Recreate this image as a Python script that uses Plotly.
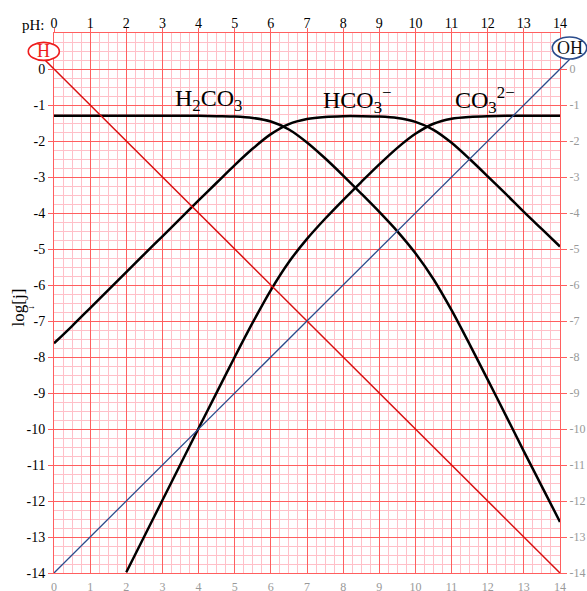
import plotly.graph_objects as go

# pH sampling for the carbonate species curves
ph = [0, 0.5, 1, 1.5, 2, 2.5, 3, 3.5, 4, 4.5, 5, 5.5, 6, 6.5, 7, 7.5,
      8, 8.5, 9, 9.5, 10, 10.5, 11, 11.5, 12, 12.5, 13, 13.5, 14]

log_h2co3 = [-1.30, -1.30, -1.30, -1.30, -1.30, -1.30, -1.30, -1.30, -1.30,
             -1.31, -1.32, -1.36, -1.46, -1.68, -2.04, -2.48, -2.96, -3.46,
             -3.97, -4.51, -5.12, -5.84, -6.70, -7.65, -8.63, -9.62, -10.62,
             -11.60, -12.58]

log_hco3 = [-7.62, -7.14, -6.64, -6.14, -5.64, -5.14, -4.65, -4.15, -3.65,
            -3.16, -2.67, -2.21, -1.81, -1.53, -1.39, -1.33, -1.31, -1.31,
            -1.32, -1.36, -1.47, -1.69, -2.05, -2.50, -2.98, -3.47, -3.97,
            -4.45, -4.93]

ph_co3 = [2, 2.5, 3, 3.5, 4, 4.5, 5, 5.5, 6, 6.5, 7, 7.5, 8, 8.5, 9, 9.5,
          10, 10.5, 11, 11.5, 12, 12.5, 13, 13.5, 14]
log_co3 = [-13.98, -12.98, -11.98, -10.98, -9.98, -8.99, -8.00, -7.04, -6.14,
           -5.36, -4.72, -4.16, -3.64, -3.14, -2.65, -2.19, -1.80, -1.52,
           -1.38, -1.33, -1.31, -1.30, -1.30, -1.30, -1.30]

# water lines: log[H+] and log[OH-]
ph_ends = [0, 14]
log_h = [0, -14]
log_oh = [-14, 0]

# tick labels
ph_ticks = list(range(0, 15))
ph_labels = [str(v) for v in ph_ticks]
log_ticks = list(range(0, -15, -1))
log_labels = [str(v) for v in log_ticks]

X_RANGE = [0, 14]
Y_RANGE = [-14, 1]

SERIF = "Liberation Serif, Times New Roman, serif"
MAJOR = "rgb(255,95,95)"
MINOR = "rgb(255,192,200)"
H_RED = "#d81010"
OH_BLUE = "#2b4c8c"


def to_domain(xv, yv):
    """Map a data point onto the (unclipped) axis-domain frame."""
    fx = (xv - X_RANGE[0]) / (X_RANGE[1] - X_RANGE[0])
    fy = (yv - Y_RANGE[0]) / (Y_RANGE[1] - Y_RANGE[0])
    return fx, fy


fig = go.Figure()

curve = dict(color="black", width=2.5, shape="spline", smoothing=0.8)
fig.add_trace(go.Scatter(x=ph, y=log_h2co3, mode="lines", line=curve,
                         name="H2CO3", hoverinfo="skip"))
fig.add_trace(go.Scatter(x=ph, y=log_hco3, mode="lines", line=curve,
                         name="HCO3-", hoverinfo="skip"))
fig.add_trace(go.Scatter(x=ph_co3, y=log_co3, mode="lines", line=curve,
                         name="CO3 2-", hoverinfo="skip"))
fig.add_trace(go.Scatter(x=ph_ends, y=log_h, mode="lines",
                         line=dict(color=H_RED, width=1.5), name="H",
                         hoverinfo="skip"))
fig.add_trace(go.Scatter(x=ph_ends, y=log_oh, mode="lines",
                         line=dict(color=OH_BLUE, width=1.3), name="OH",
                         hoverinfo="skip", xaxis="x2", yaxis="y2"))

fig.update_layout(
    width=587, height=591,
    margin=dict(l=54, r=27, t=33, b=18, autoexpand=False),
    paper_bgcolor="white", plot_bgcolor="white",
    showlegend=False,
    xaxis=dict(
        side="top", range=X_RANGE, anchor="y", automargin=False,
        tickmode="array", tickvals=ph_ticks, ticktext=ph_labels,
        tickfont=dict(family=SERIF, size=14, color="black"),
        ticks="outside", ticklen=4, tickcolor=MAJOR, ticklabelstandoff=-6,
        showgrid=True, gridcolor=MAJOR, gridwidth=1,
        minor=dict(tickmode="linear", tick0=0, dtick=0.25, showgrid=True,
                   gridcolor=MINOR, gridwidth=1),
        showline=True, linecolor=MAJOR, linewidth=1, mirror=True,
        zeroline=False,
    ),
    yaxis=dict(
        range=Y_RANGE, anchor="x", automargin=False,
        tickmode="array", tickvals=log_ticks, ticktext=log_labels,
        tickfont=dict(family=SERIF, size=14, color="black"),
        ticks="outside", ticklen=5, tickcolor=MAJOR,
        showgrid=True, gridcolor=MAJOR, gridwidth=1,
        minor=dict(tickmode="linear", tick0=0, dtick=0.25, showgrid=True,
                   gridcolor=MINOR, gridwidth=1),
        showline=True, linecolor=MAJOR, linewidth=1, mirror=True,
        zeroline=False,
    ),
    xaxis2=dict(
        overlaying="x", side="bottom", range=X_RANGE, anchor="y2",
        automargin=False,
        tickmode="array", tickvals=ph_ticks, ticktext=ph_labels,
        tickfont=dict(family=SERIF, size=12, color="#999999"),
        ticks="outside", ticklen=3, tickcolor="rgba(0,0,0,0)",
        showgrid=False, showline=False, zeroline=False,
    ),
    yaxis2=dict(
        overlaying="y", side="right", range=Y_RANGE, anchor="x2",
        automargin=False,
        tickmode="array", tickvals=log_ticks, ticktext=log_labels,
        tickfont=dict(family=SERIF, size=12, color="#999999"),
        ticks="outside", ticklen=6, tickcolor=MAJOR,
        showgrid=False, showline=False, zeroline=False,
    ),
)

# species labels
species = [
    (3.28, "H<sub>2</sub>CO<sub>3</sub>"),
    (7.40, "HCO<sub>3</sub><sup>\u2212</sup>"),
    (11.03, "CO<sub>3</sub><sup>2\u2212</sup>"),
]
for xpos, txt in species:
    fig.add_annotation(x=xpos, y=-0.87, xref="x", yref="y", text=txt,
                       showarrow=False, xanchor="left", yanchor="middle",
                       font=dict(family=SERIF, size=24, color="black"))

# short leaders continuing the water lines past the grid up to their tags
LEAD = 0.27
hx0, hy0 = to_domain(ph_ends[0], log_h[0])
hx1, hy1 = to_domain(ph_ends[0] - LEAD, log_h[0] + LEAD)
fig.add_shape(type="line", xref="x domain", yref="y domain",
              x0=hx0, y0=hy0, x1=hx1, y1=hy1,
              line=dict(color=H_RED, width=1.5))
ox0, oy0 = to_domain(ph_ends[1], log_oh[1])
ox1, oy1 = to_domain(ph_ends[1] + LEAD, log_oh[1] + LEAD)
fig.add_shape(type="line", xref="x domain", yref="y domain",
              x0=ox0, y0=oy0, x1=ox1, y1=oy1,
              line=dict(color=OH_BLUE, width=1.3))

# tags for the water lines
fig.add_shape(type="circle", xref="paper", yref="paper",
              x0=-0.0508, x1=0.0105, y0=0.9493, y1=0.9826,
              line=dict(color="#ee1c1c", width=1.6), fillcolor="white")
fig.add_shape(type="circle", xref="paper", yref="paper",
              x0=0.9848, x1=1.0528, y0=0.9519, y1=0.9926,
              line=dict(color=OH_BLUE, width=1.6), fillcolor="white")
fig.add_annotation(x=-0.0202, y=0.9659, xref="paper", yref="paper", text="H",
                   showarrow=False, xanchor="center", yanchor="middle",
                   font=dict(family=SERIF, size=18, color="#ee1c1c"))
fig.add_annotation(x=1.0188, y=0.9722, xref="paper", yref="paper", text="OH",
                   showarrow=False, xanchor="center", yanchor="middle",
                   font=dict(family=SERIF, size=18, color="#111111"))

# axis captions
fig.add_annotation(x=-0.0138, y=1.0150, xref="paper", yref="paper", text="pH:",
                   showarrow=False, xanchor="right", yanchor="middle",
                   font=dict(family=SERIF, size=15, color="black"))
fig.add_annotation(x=-0.0698, y=0.4913, xref="paper", yref="paper", text="log[j]",
                   showarrow=False, textangle=-90, xanchor="center",
                   yanchor="middle",
                   font=dict(family=SERIF, size=17, color="black"))
fig.add_annotation(x=-0.0435, y=0.495, xref="paper", yref="paper", text="\u2192",
                   showarrow=False, xanchor="center", yanchor="middle",
                   font=dict(family=SERIF, size=9, color="black"))

fig.write_html("out.html")
